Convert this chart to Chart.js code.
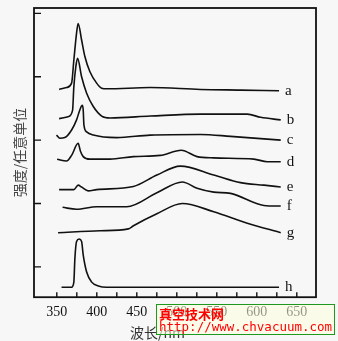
<!DOCTYPE html>
<html>
<head>
<meta charset="utf-8">
<script src="https://cdn.jsdelivr.net/npm/chart.js@4/dist/chart.umd.min.js"></script>
<style>
  html, body { margin:0; padding:0; background:#f7f7f7; }
  #wrap { position:relative; width:338px; height:341px; }
  #wm {
    position:absolute; left:156px; top:304px; width:177px; height:29px;
    border:1px solid #1d9a1d; background:rgba(255,255,222,0.55);
    color:#f00; overflow:hidden;
  }
  #wm .t1 { position:absolute; left:2px; top:1px; font:bold 13px "Noto Sans CJK SC"; line-height:15px; }
  #wm .t2 { position:absolute; left:2px; top:15px; font:12.5px "DejaVu Sans Mono"; line-height:14px; }
</style>
</head>
<body>
<div id="wrap">
  <canvas id="c" width="338" height="341"></canvas>
  <div id="wm"><span class="t1">真空技术网</span><span class="t2">http://www.chvacuum.com</span></div>
</div>
<script>
// ====== DATA (wavelength nm / intensity, arbitrary units, curves stacked) ======
const curveNames = ['a','b','c','d','e','f','g','h'];

const wl_a  = [352.9, 362.2, 368.5, 371.3, 374.7, 376.7, 381.0, 385.1, 391.4, 399.8, 406.1, 412.4, 466.7, 529.5, 579.7, 627.8];
const int_a = [3.80, 3.83, 3.90, 4.26, 4.69, 4.84, 4.58, 4.32, 4.08, 3.90, 3.82, 3.81, 3.83, 3.80, 3.79, 3.78];

const wl_b  = [352.9, 364.2, 369.7, 371.3, 373.8, 376.0, 381.0, 387.3, 395.6, 406.1, 416.5, 466.7, 529.5, 588.1, 604.8, 629.9];
const int_b = [3.34, 3.37, 3.47, 3.84, 4.16, 4.29, 4.00, 3.74, 3.53, 3.38, 3.35, 3.38, 3.41, 3.41, 3.36, 3.32];

const wl_c  = [349.6, 353.8, 360.0, 368.5, 374.7, 378.9, 381.8, 383.0, 383.9, 387.3, 395.6, 424.9, 466.7, 529.5, 567.2, 629.9];
const int_c = [3.08, 3.03, 3.04, 3.16, 3.32, 3.48, 3.55, 3.48, 3.24, 3.13, 3.08, 3.04, 3.08, 3.09, 3.06, 3.00];

const wl_d  = [350.4, 362.2, 368.5, 376.7, 379.7, 383.0, 391.4, 416.5, 445.8, 479.3, 505.6, 525.3, 546.2, 596.4, 613.2, 629.9];
const int_d = [2.70, 2.67, 2.76, 2.95, 2.82, 2.74, 2.70, 2.70, 2.74, 2.76, 2.84, 2.74, 2.72, 2.70, 2.66, 2.66];

const wl_e  = [352.9, 371.3, 376.7, 381.0, 389.3, 399.8, 445.8, 475.1, 504.4, 546.2, 579.7, 609.0, 629.9];
const int_e = [2.22, 2.22, 2.29, 2.26, 2.20, 2.22, 2.27, 2.45, 2.59, 2.45, 2.33, 2.29, 2.26];

const wl_f  = [357.2, 374.7, 399.8, 437.5, 475.1, 506.9, 525.3, 546.2, 567.2, 608.9, 629.9];
const int_f = [1.94, 1.91, 1.95, 1.95, 2.17, 2.34, 2.24, 2.18, 2.16, 1.97, 1.96];

const wl_g  = [351.6, 404.0, 439.5, 445.8, 475.1, 506.9, 546.2, 588.1, 629.9];
const int_g = [1.54, 1.57, 1.60, 1.65, 1.84, 2.00, 1.87, 1.69, 1.54];

const wl_h  = [355.9, 368.5, 371.3, 372.6, 374.7, 378.0, 381.0, 383.0, 387.3, 393.6, 401.9, 412.4, 466.7, 627.8];
const int_h = [0.68, 0.68, 0.76, 1.13, 1.40, 1.44, 1.40, 1.19, 0.92, 0.76, 0.70, 0.68, 0.68, 0.68];

const xTickValues = [350, 375, 400, 425, 450, 475, 500, 525, 550, 575, 600, 625, 650];
const yTickValues = [1, 2, 3, 4, 5];
const xTitle = '波长/nm';
const yTitle = '强度/任意单位';

// ====== BUILD ======
const wls  = [wl_a, wl_b, wl_c, wl_d, wl_e, wl_f, wl_g, wl_h];
const ints = [int_a, int_b, int_c, int_d, int_e, int_f, int_g, int_h];
const datasets = curveNames.map((n, i) => ({
  label: n,
  data: wls[i].map((w, j) => ({ x: w, y: ints[i][j] })),
  showLine: true,
  borderColor: '#111',
  borderWidth: 1.6,
  pointRadius: 0,
  cubicInterpolationMode: 'monotone',
  fill: false
}));

// frame, inward ticks, curve letters, x title
const framePlugin = {
  id: 'frame',
  afterDraw(chart){
    const { ctx, chartArea: a, scales: { x, y } } = chart;
    ctx.save();
    ctx.strokeStyle = '#111';
    ctx.lineWidth = 1.8;
    ctx.strokeRect(a.left, a.top, a.right - a.left, a.bottom - a.top);
    ctx.lineWidth = 1.4;
    ctx.beginPath();
    xTickValues.forEach(v => { const px = x.getPixelForValue(v); ctx.moveTo(px, a.bottom); ctx.lineTo(px, a.bottom - 5); });
    yTickValues.forEach(v => { const py = y.getPixelForValue(v); ctx.moveTo(a.left, py); ctx.lineTo(a.left + 7, py); });
    ctx.stroke();

    ctx.fillStyle = '#111';
    ctx.font = '15px "Liberation Serif"';
    ctx.textBaseline = 'middle';
    ctx.textAlign = 'left';
    chart.data.datasets.forEach(ds => {
      const last = ds.data[ds.data.length - 1];
      ctx.fillText(ds.label, x.getPixelForValue(last.x) + 6, y.getPixelForValue(last.y));
    });

    ctx.font = '14px "Noto Sans CJK SC"';
    ctx.fillStyle = '#333';
    ctx.fillText(xTitle, 130, 333);
    ctx.restore();
  }
};

new Chart(document.getElementById('c').getContext('2d'), {
  type: 'scatter',
  data: { datasets },
  options: {
    responsive: false,
    animation: false,
    devicePixelRatio: 1,
    layout: { padding: { left: 5.2, top: 8, right: 22, bottom: 13 } },
    plugins: { legend: { display: false }, tooltip: { enabled: false } },
    scales: {
      x: {
        type: 'linear', min: 321.5, max: 674,
        grid: { display: false, drawTicks: false, tickLength: 0 },
        border: { display: false },
        afterBuildTicks: s => { s.ticks = xTickValues.map(v => ({ value: v })); },
        ticks: {
          autoSkip: false, maxRotation: 0, padding: 7, color: '#111',
          font: { family: '"Liberation Serif"', size: 14 },
          callback: v => (v % 50 === 0 ? String(v) : '')
        }
      },
      y: {
        type: 'linear', min: 0.522, max: 5.085,
        grid: { display: false, drawTicks: false, tickLength: 0 },
        border: { display: false },
        ticks: { display: false },
        title: {
          display: true, text: yTitle, color: '#444',
          font: { family: '"Noto Sans CJK SC"', size: 14 },
          padding: { top: 6, bottom: 6 }
        }
      }
    }
  },
  plugins: [framePlugin]
});
</script>
</body>
</html>
